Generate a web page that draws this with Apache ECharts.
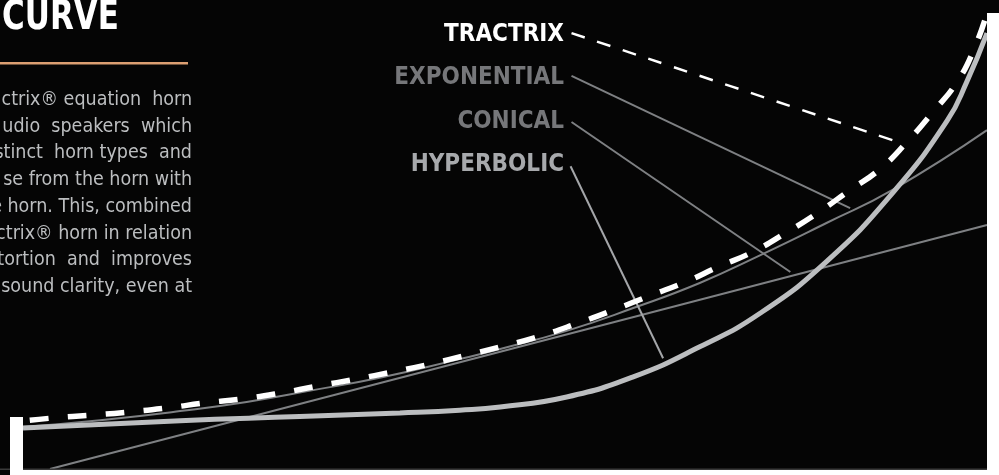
<!DOCTYPE html>
<html>
<head>
<meta charset="utf-8">
<script src="https://cdn.jsdelivr.net/npm/echarts@6/dist/echarts.min.js"></script>
<style>
  html, body { margin: 0; padding: 0; background: #050505; }
  #container { width: 999px; height: 475px; }
</style>
</head>
<body>
<div id="container"></div>
<script>
// horn profiles: [length along horn (0-100), radius (0-100)]
var tractrix = [[0.7,10.7],[3.2,11.2],[7.1,11.8],[11.0,12.5],[15.0,13.4],[18.9,14.5],[22.8,15.4],[26.8,16.7],[30.6,18.2],[34.5,19.7],[38.4,21.3],[42.2,23.0],[46.1,25.0],[49.9,27.0],[53.7,29.2],[57.6,32.0],[61.3,34.9],[64.9,37.9],[68.7,41.0],[72.1,44.3],[75.7,47.6],[79.3,52.0],[82.6,56.4],[85.8,61.2],[88.8,65.6],[91.7,71.7],[94.4,78.3],[96.9,84.9],[98.7,92.3],[100,100]];
var exponential = [[0,9.2],[8.0,10.7],[16.3,12.7],[23.2,14.7],[30.1,17.3],[37.0,20.0],[45.3,24.1],[49.5,26.3],[56.4,30.3],[63.3,35.3],[70.2,40.8],[76.5,46.9],[83.4,54.0],[90.2,61.2],[100,74.3]];
var conical = [[2.8,0],[100,53.5]];
var hyperbolic = [[0,9.0],[16.3,10.6],[28.7,11.5],[39.1,12.3],[45.3,12.9],[49.5,13.6],[56.4,15.8],[63.3,20.2],[70.2,26.8],[76.5,34.2],[83.4,45.6],[90.2,60.5],[95.9,76.5],[97.9,84.9],[100,95.6]];

// label leaders: from label to curve
var leaderTractrix = [[56.9,95.6],[90.2,72.1]];
var leaderExponential = [[56.9,86.2],[85.8,57.2]];
var leaderConical = [[56.9,76.1],[79.6,43.2]];
var leaderHyperbolic = [[56.8,66.4],[66.4,24.3]];

var labelNames = ['TRACTRIX', 'EXPONENTIAL', 'CONICAL', 'HYPERBOLIC'];

var titleText = 'CURVE';
var bodyLines = [
	'ctrix® equation  horn',
	'udio  speakers  which',
	'stinct  horn types  and',
	'se from the horn with',
	'e horn. This, combined',
	'actrix® horn in relation',
	'tortion  and  improves',
	'sound clarity, even at'
];

var condensed = "'DejaVu Sans Condensed', 'Roboto', sans-serif";

var dom = document.getElementById('container');
var myChart = echarts.init(dom);

function lineSeries(name, data, color, width, type, z) {
	return {
		name: name,
		type: 'line',
		data: data,
		showSymbol: false,
		symbol: 'none',
		smooth: 0.5,
		z: z,
		silent: true,
		lineStyle: { color: color, width: width, type: type, cap: 'butt' }
	};
}

var labelColors = ['#ffffff', '#76777a', '#76777a', '#a7a9ac'];
var labelY = [35, 78, 122, 165];

var graphics = [];
// title and rule
graphics.push({ type: 'text', x: 119, y: 18, scaleX: 0.84, style: { text: titleText, fill: '#ffffff', font: 'bold 41px ' + condensed, textAlign: 'right', textVerticalAlign: 'middle' } });
graphics.push({ type: 'rect', shape: { x: 0, y: 62, width: 188, height: 2.5 }, style: { fill: '#dc9f72' } });
// body paragraph (cut off at the left edge)
bodyLines.forEach(function (t, i) {
	graphics.push({ type: 'text', x: 192, y: 100 + i * 26.7, style: { text: t, fill: '#bcbec0', font: '19.5px ' + condensed, textAlign: 'right', textVerticalAlign: 'middle' } });
});
// curve labels
labelNames.forEach(function (t, i) {
	graphics.push({ type: 'text', x: 564, y: labelY[i], style: { text: t, fill: labelColors[i], font: 'bold 24px ' + condensed, textAlign: 'right', textVerticalAlign: 'middle' } });
});
// horn throat / mouth / base
graphics.push({ type: 'rect', z: 100, shape: { x: 10, y: 417, width: 13, height: 58 }, style: { fill: '#ffffff' } });
graphics.push({ type: 'rect', z: 100, shape: { x: 987, y: 13, width: 12, height: 462 }, style: { fill: '#ffffff' } });
graphics.push({ type: 'rect', z: 99, shape: { x: 0, y: 468.5, width: 999, height: 1.5 }, style: { fill: '#3a3a3a' } });
graphics.push({ type: 'rect', z: 99, shape: { x: 23, y: 470, width: 976, height: 5 }, style: { fill: '#ffffff' } });

var option = {
	backgroundColor: '#050505',
	animation: false,
	grid: { left: 23, right: 12, top: 13, bottom: 6 },
	xAxis: { type: 'value', min: 0, max: 100, show: false },
	yAxis: { type: 'value', min: 0, max: 100, show: false },
	graphic: graphics,
	series: [
		lineSeries('conical', conical, '#7e8083', 2, 'solid', 3),
		lineSeries('exponential', exponential, '#7e8083', 2, 'solid', 3),
		lineSeries('hyperbolic', hyperbolic, '#bcbec0', 5, 'solid', 4),
		lineSeries('tractrix', tractrix, '#ffffff', 5.5, [19, 19], 5),
		lineSeries('leaderT', leaderTractrix, '#ffffff', 2.5, [14, 13], 5),
		lineSeries('leaderE', leaderExponential, '#7e8083', 2, 'solid', 3),
		lineSeries('leaderC', leaderConical, '#7e8083', 2, 'solid', 3),
		lineSeries('leaderH', leaderHyperbolic, '#a4a6a9', 2, 'solid', 3)
	]
};
myChart.setOption(option, true);
</script>
</body>
</html>
